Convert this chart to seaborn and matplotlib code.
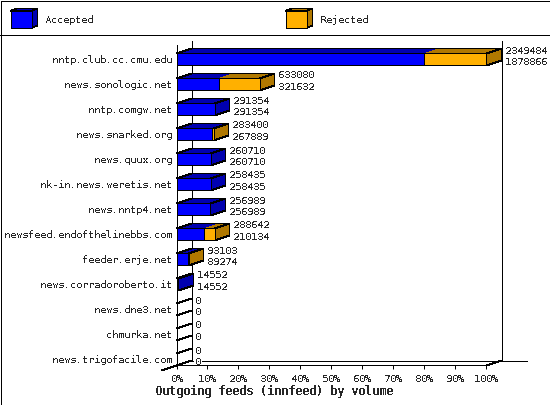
import math
import matplotlib
matplotlib.use('Agg')
import matplotlib.pyplot as plt
from matplotlib.patches import Polygon, Rectangle
import pandas as pd
import seaborn as sns

HOSTS = ['nntp.club.cc.cmu.edu', 'news.sonologic.net', 'nntp.comgw.net',
         'news.snarked.org', 'news.quux.org', 'nk-in.news.weretis.net',
         'news.nntp4.net', 'newsfeed.endofthelinebbs.com', 'feeder.erje.net',
         'news.corradoroberto.it', 'news.dne3.net', 'chmurka.net',
         'news.trigofacile.com']
TOTAL = [2349484, 633080, 291354, 283400, 260710, 258435, 256989, 288642,
         93103, 14552, 0, 0, 0]
ACCEPTED = [1878866, 321632, 291354, 267889, 260710, 258435, 256989, 210134,
            89274, 14552, 0, 0, 0]
XTICKS = [0, 10, 20, 30, 40, 50, 60, 70, 80, 90, 100]

BLUE = '#0000ff'
DARK_BLUE = '#0000b0'
ORANGE = '#ffb000'
DARK_ORANGE = '#b07800'
LW = 0.72
THIN = 0.5         # slanted edges come out too heavy at LW without antialiasing
DX, DY = 15, 5     # depth of the fake 3d, in pixels
BAR = 0.48

sns.set_theme(style='white')
plt.rcParams['font.family'] = 'DejaVu Sans Mono'
plt.rcParams['text.antialiased'] = False
plt.rcParams['text.hinting'] = 'native'
plt.rcParams['text.hinting_factor'] = 1
plt.rcParams['patch.antialiased'] = False
plt.rcParams['lines.antialiased'] = False

df = pd.DataFrame({'host': HOSTS, 'total': TOTAL, 'accepted': ACCEPTED})
df['total_pct'] = df['total'] / df['total'].max() * 100
df['accepted_pct'] = df['accepted'] / df['total'].max() * 100

W, H = 550, 405
fig = plt.figure(figsize=(W / 100, H / 100), dpi=100)

# whole figure in pixels, for frame, legend and the 3d faces
bg = fig.add_axes([0, 0, 1, 1])
bg.set_xlim(0, W)
bg.set_ylim(H, 0)
bg.axis('off')

ax = fig.add_axes([176.5 / W, 1 - 365 / H, 309.5 / W, 320 / H])
ax.patch.set_alpha(0)

sns.barplot(data=df, y='host', x='total_pct', color=ORANGE, saturation=1,
            width=BAR, edgecolor='black', linewidth=LW, ax=ax)
sns.barplot(data=df, y='host', x='accepted_pct', color=BLUE, saturation=1,
            width=BAR, edgecolor='black', linewidth=LW, ax=ax)

ax.set_xlim(0, 100)
ax.set_ylim(12.24, -0.56)
ax.set_xticks(XTICKS)
ax.set_xticklabels([f'{t}%' for t in XTICKS], fontsize=7.2)
ax.tick_params(axis='x', length=3, width=LW, color='black', pad=3.5, bottom=True)
ax.tick_params(axis='y', length=0, pad=3.2, labelsize=7.2)
ax.set_ylabel('')
ax.set_xlabel('')
sns.despine(ax=ax, top=True, right=True)
for side in ['left', 'bottom']:
    ax.spines[side].set_color('black')
    ax.spines[side].set_linewidth(LW)


def px(value, row):
    p = ax.transData.transform((value, row))
    x, y = bg.transData.inverted().transform(p)
    return math.floor(x) + 0.5, math.floor(y) + 0.5


def line(xs, ys, lw=LW):
    bg.plot(xs, ys, color='black', lw=lw, zorder=1, solid_capstyle='butt')


# back walls and floor
x0, y_low = px(0, 12.24)
x1, y_high = px(100, -0.56)
line([x0 + DX, x0 + DX], [y_high - DY, y_low - DY])
line([x1 + DX, x1 + DX], [y_high - DY, y_low - DY])
line([x0 + DX, x1 + DX + 25], [y_low - DY, y_low - DY])
line([x0 - DX, x0 + DX], [y_low + DY, y_low - DY], THIN)
line([x1, x1 + DX], [y_low, y_low - DY], THIN)


def top_face(start, end, row, color):
    xa, ytop = px(start, row - BAR / 2)
    xb, _ = px(end, row - BAR / 2)
    bg.add_patch(Polygon([(xa, ytop), (xb, ytop), (xb + DX, ytop - DY), (xa + DX, ytop - DY)],
                         facecolor=color, edgecolor='none', zorder=3))


for i, row in df.iterrows():
    total, accepted = row['total'], row['accepted']
    xa, ytop = px(0, i - BAR / 2)
    xe, ybot = px(row['total_pct'], i + BAR / 2)
    _, yc = px(0, i)
    if total > 0:
        top_face(0, row['accepted_pct'], i, DARK_BLUE)
        top_face(row['accepted_pct'], row['total_pct'], i, DARK_ORANGE)
        side = DARK_ORANGE if total > accepted else DARK_BLUE
        # outline of the top, no line between the two colours
        bg.add_patch(Polygon([(xa, ytop), (xe, ytop), (xe + DX, ytop - DY), (xa + DX, ytop - DY)],
                             facecolor='none', edgecolor='black', lw=THIN, zorder=3))
        bg.add_patch(Polygon([(xe, ytop), (xe + DX, ytop - DY), (xe + DX, ybot - DY), (xe, ybot)],
                             facecolor=side, edgecolor='black', lw=THIN, zorder=3))
    else:
        # empty row: only the two slanted edges show on the wall
        line([xe, xe + DX], [ytop, ytop - DY], THIN)
        line([xe, xe + DX], [ybot, ybot - DY], THIN)
    for val, off in [(total, -9), (accepted, 2.5)]:
        bg.text(xe + DX + 3.5, yc + off, str(val), fontsize=7.2, ha='left', va='center',
                zorder=4, bbox=dict(facecolor='white', edgecolor='none', pad=0.5))

# frame and legend
bg.add_patch(Rectangle((0.5, 0.5), W - 1, H - 1, facecolor='none', edgecolor='black', lw=LW))
line([0, W], [35, 35])
for left, front, dark, name in [(10.5, BLUE, DARK_BLUE, 'Accepted'),
                                (285.5, ORANGE, DARK_ORANGE, 'Rejected')]:
    bg.add_patch(Polygon([(left, 11), (left + 21, 11), (left + 27, 8.5), (left + 6, 8.5)],
                         facecolor=dark, edgecolor='black', lw=THIN))
    bg.add_patch(Polygon([(left + 21, 11), (left + 27, 8.5), (left + 27, 25.5), (left + 21, 28)],
                         facecolor=dark, edgecolor='black', lw=THIN))
    bg.add_patch(Rectangle((left, 11), 21, 17, facecolor=front, edgecolor='black', lw=LW))
    bg.text(left + 34.5, 20, name, fontsize=7.2, ha='left', va='center')

bg.text(274, 392, 'Outgoing feeds (innfeed) by volume', fontsize=8.4, fontweight='bold',
        ha='center', va='center')

fig.savefig('out.png', dpi=100)
